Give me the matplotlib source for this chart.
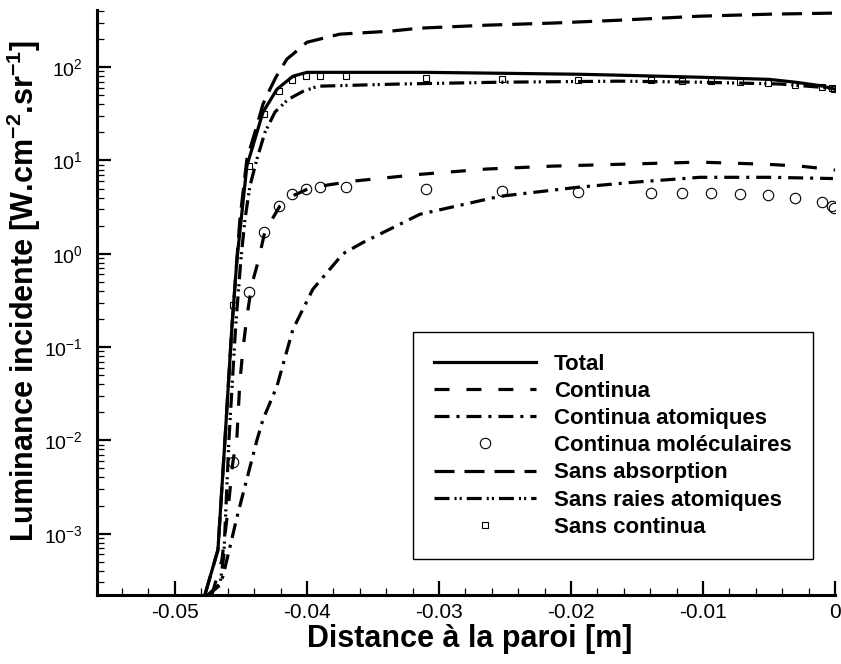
import numpy as np
import matplotlib
matplotlib.use("Agg")
import matplotlib.pyplot as plt
from matplotlib.ticker import FixedLocator, MultipleLocator, LogLocator, NullFormatter

plt.rcParams['font.family'] = ['Liberation Sans', 'DejaVu Sans']
plt.rcParams['mathtext.fontset'] = 'custom'
plt.rcParams['mathtext.rm'] = 'Liberation Sans'
plt.rcParams['mathtext.bf'] = 'Liberation Sans:bold'
plt.rcParams['mathtext.default'] = 'regular'
plt.rcParams['axes.unicode_minus'] = False
plt.rcParams['lines.scale_dashes'] = False

# Total
x_total = [-0.04773, -0.04674, -0.04621, -0.04568, -0.04530, -0.04455, -0.04333, -0.04227,
           -0.04106, -0.04000, -0.03900, -0.03100, -0.02520, -0.01950, -0.01630, -0.01020,
           -0.00500, -0.00300, -0.00100, 0.0]
y_total = [2.2e-4, 6.7e-4, 1.0e-2, 0.166, 0.87, 8.7, 32.9, 58,
           80, 88, 88, 88, 86, 84, 82, 78,
           74, 69, 63, 58]

# Continua
x_cont = [-0.04720, -0.04644, -0.04598, -0.04561, -0.04530, -0.04508, -0.04485, -0.04455,
          -0.04417, -0.04371, -0.04318, -0.04205, -0.04114, -0.04000, -0.03902, -0.03652,
          -0.03144, -0.02636, -0.02136, -0.01629, -0.01023, -0.00515, -0.00265, -0.00061, 0.0]
y_cont = [2.2e-4, 5.2e-4, 1.8e-3, 5.8e-3, 0.011, 0.042, 0.094, 0.21,
          0.47, 0.81, 1.74, 3.24, 4.13, 4.9, 5.3, 6.0,
          7.1, 8.1, 8.7, 9.1, 9.6, 9.1, 8.7, 8.1, 7.9]

# Continua atomiques
x_cat = [-0.04750, -0.04659, -0.04636, -0.04583, -0.04530, -0.04379, -0.04333, -0.04227,
         -0.04106, -0.03955, -0.03727, -0.03576, -0.03144, -0.02538, -0.01955, -0.01553,
         -0.01023, -0.00490, -0.00015]
y_cat = [2.2e-4, 2.9e-4, 3.5e-4, 7.2e-4, 1.5e-3, 1.0e-2, 1.67e-2, 0.038,
         0.155, 0.417, 1.0, 1.32, 2.65, 4.13, 5.15, 5.8,
         6.6, 6.6, 6.4]

# Sans absorption
x_sabs = [-0.04773, -0.04674, -0.04621, -0.04568, -0.04508, -0.04455, -0.04394, -0.04333,
          -0.04280, -0.04235, -0.04152, -0.04106, -0.04000, -0.03750, -0.03371, -0.03144,
          -0.02636, -0.02136, -0.01629, -0.01023, -0.00492, 0.0]
y_sabs = [2.2e-4, 6.7e-4, 1.0e-2, 0.166, 2.3, 10.3, 20, 40,
          58, 78, 122, 138, 185, 226, 243, 262,
          282, 297, 319, 352, 370, 380]

# Sans raies atomiques
x_sra = [-0.04750, -0.04659, -0.04629, -0.04591, -0.04540, -0.04500, -0.04470, -0.04432,
         -0.04379, -0.04318, -0.04242, -0.04144, -0.04030, -0.03917, -0.03295, -0.02538,
         -0.01629, -0.01023, -0.00417, -0.00114, 0.0]
y_sra = [2.2e-4, 2.8e-4, 5.9e-4, 1.0e-2, 0.166, 0.87, 2.3, 5.3,
         10.3, 20, 33, 45, 55, 62.5, 66, 69,
         70.8, 69, 66, 61, 58]

# points (Continua moléculaires / Sans continua)
x_pts = [-0.04561, -0.04439, -0.04326, -0.04212, -0.04114, -0.04008, -0.03902, -0.03705,
         -0.03098, -0.02523, -0.01947, -0.01394, -0.01159, -0.00939, -0.00720, -0.00508,
         -0.00303, -0.00098, -0.00023, -0.00008]
y_mol = [5.8e-3, 0.385, 1.70, 3.24, 4.34, 4.9, 5.15, 5.15,
         4.9, 4.68, 4.56, 4.45, 4.45, 4.45, 4.34, 4.24,
         3.93, 3.55, 3.24, 3.07]
y_scont = [0.28, 8.7, 31.3, 55, 72.5, 80, 80, 80,
           76, 74, 72.5, 72.5, 70.8, 70.8, 69, 67.3,
           64, 61, 59.5, 58]

xticks = [-0.05, -0.04, -0.03, -0.02, -0.01, 0.0]
xtick_labels = ['-0.05', '-0.04', '-0.03', '-0.02', '-0.01', '0']
yticks = [1e-3, 1e-2, 1e-1, 1e0, 1e1, 1e2]
ytick_labels = ['10$^{-3}$', '10$^{-2}$', '10$^{-1}$', '10$^{0}$', '10$^{1}$', '10$^{2}$']

fig = plt.figure(figsize=(8.41, 6.64), dpi=100)
ax = fig.add_axes([97/841, 1 - 595/664, (835 - 97)/841, (595 - 10)/664])

lw = 2.3
ax.plot(x_total, y_total, color='black', lw=lw, label='Total')
ax.plot(x_cont, y_cont, color='black', lw=lw, linestyle=(0, (10.8, 12.2)), label='Continua')
ax.plot(x_cat, y_cat, color='black', lw=lw, linestyle=(0, (10.8, 5.0, 2.2, 5.0)),
        label='Continua atomiques')
ax.plot(x_pts, y_mol, linestyle='none', marker='o', markersize=7.5, markerfacecolor='none',
        markeredgecolor='black', markeredgewidth=0.8, label='Continua moléculaires')
ax.plot(x_sabs, y_sabs, color='black', lw=lw, linestyle=(0, (14.4, 7.2)), label='Sans absorption')
ax.plot(x_sra, y_sra, color='black', lw=lw,
        linestyle=(0, (10.8, 3.6, 1.5, 2.2, 1.5, 3.6)), label='Sans raies atomiques')
ax.plot(x_pts, y_scont, linestyle='none', marker='s', markersize=5, markerfacecolor='none',
        markeredgecolor='black', markeredgewidth=0.8, label='Sans continua')

ax.set_yscale('log')
ax.set_xlim(-0.0559, 0.0)
ax.set_ylim(2.2e-4, 410)

for s in ['top', 'right']:
    ax.spines[s].set_visible(False)
for s in ['left', 'bottom']:
    ax.spines[s].set_linewidth(2.2)

ax.xaxis.set_major_locator(FixedLocator(xticks))
ax.set_xticklabels(xtick_labels)
ax.xaxis.set_minor_locator(MultipleLocator(0.002))
ax.yaxis.set_major_locator(FixedLocator(yticks))
ax.set_yticklabels(ytick_labels)
ax.yaxis.set_minor_locator(LogLocator(base=10, subs=np.arange(2, 10)))
ax.yaxis.set_minor_formatter(NullFormatter())

ax.tick_params(which='major', direction='in', length=10, width=1.6, labelsize=15, pad=6)
ax.tick_params(which='minor', direction='in', length=5, width=0.9)
ax.tick_params(axis='y', which='major', pad=10, labelsize=14)

ax.set_xlabel('Distance à la paroi [m]', fontsize=22, fontweight='bold')
ax.set_ylabel('Luminance incidente [W.cm$^{-2}$.sr$^{-1}$]', fontsize=22, fontweight='bold')
ax.xaxis.set_label_coords(0.505, -0.05)
ax.yaxis.set_label_coords(-0.073, 0.52)

leg = ax.legend(loc='lower right', bbox_to_anchor=(0.970, 0.0615), prop={'weight': 'bold', 'size': 16},
                frameon=True, fancybox=False, edgecolor='black', framealpha=1,
                handlelength=4.6, handletextpad=0.8, labelspacing=0.28, borderpad=0.95,
                borderaxespad=0, numpoints=1)
leg.get_frame().set_linewidth(1.0)

fig.savefig('out.png', dpi=100)
